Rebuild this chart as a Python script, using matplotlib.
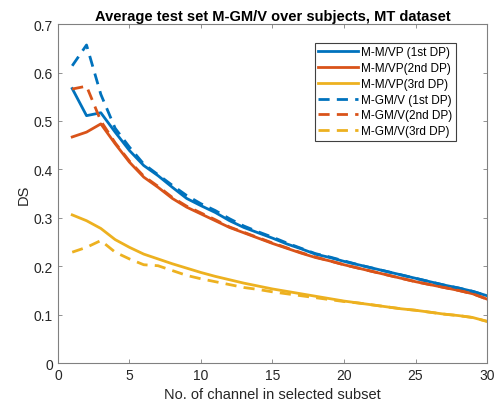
import matplotlib
matplotlib.use("Agg")
import matplotlib.pyplot as plt
import numpy as np

x = list(range(1, 31))

mmvp_1st = [0.567, 0.511, 0.517, 0.477, 0.439, 0.408, 0.387, 0.363, 0.340, 0.325,
            0.311, 0.294, 0.280, 0.269, 0.258, 0.246, 0.236, 0.225, 0.218, 0.210,
            0.203, 0.196, 0.189, 0.182, 0.175, 0.168, 0.161, 0.155, 0.148, 0.139]
mmvp_2nd = [0.467, 0.477, 0.494, 0.453, 0.415, 0.384, 0.363, 0.340, 0.322, 0.308,
            0.294, 0.280, 0.269, 0.258, 0.247, 0.237, 0.227, 0.218, 0.211, 0.203,
            0.196, 0.189, 0.182, 0.175, 0.168, 0.162, 0.156, 0.150, 0.143, 0.132]
mmvp_3rd = [0.306, 0.294, 0.278, 0.255, 0.239, 0.225, 0.215, 0.205, 0.196, 0.187,
            0.179, 0.172, 0.165, 0.159, 0.153, 0.148, 0.143, 0.138, 0.133, 0.128,
            0.124, 0.120, 0.116, 0.112, 0.109, 0.105, 0.101, 0.098, 0.094, 0.086]
mgmv_1st = [0.614, 0.657, 0.555, 0.485, 0.446, 0.411, 0.389, 0.367, 0.346, 0.329,
            0.315, 0.298, 0.283, 0.271, 0.260, 0.248, 0.237, 0.226, 0.219, 0.211,
            0.203, 0.196, 0.189, 0.182, 0.175, 0.168, 0.161, 0.155, 0.148, 0.139]
mgmv_2nd = [0.566, 0.572, 0.500, 0.455, 0.417, 0.386, 0.365, 0.342, 0.324, 0.310,
            0.296, 0.281, 0.270, 0.259, 0.248, 0.238, 0.228, 0.219, 0.211, 0.203,
            0.196, 0.189, 0.182, 0.175, 0.168, 0.162, 0.156, 0.150, 0.143, 0.132]
mgmv_3rd = [0.229, 0.239, 0.253, 0.229, 0.215, 0.203, 0.201, 0.191, 0.181, 0.174,
            0.168, 0.162, 0.156, 0.152, 0.147, 0.143, 0.139, 0.135, 0.131, 0.127,
            0.124, 0.120, 0.116, 0.112, 0.109, 0.105, 0.101, 0.098, 0.094, 0.086]

labels = ["M-M/VP (1st DP)", "M-M/VP(2nd DP)", "M-M/VP(3rd DP)",
          "M-GM/V (1st DP)", "M-GM/V(2nd DP)", "M-GM/V(3rd DP)"]
xticks = [0, 5, 10, 15, 20, 25, 30]
yticks = [0, 0.1, 0.2, 0.3, 0.4, 0.5, 0.6, 0.7]

c1, c2, c3 = "#0072BD", "#D95319", "#EDB120"

plt.rcParams['font.family'] = ['Liberation Sans', 'DejaVu Sans']
fig = plt.figure(figsize=(4.95, 4.06), dpi=100)
ax = fig.add_axes([0.117, 0.1034, 0.867, 0.8346])

lw = 2.0
series = [mmvp_1st, mmvp_2nd, mmvp_3rd, mgmv_1st, mgmv_2nd, mgmv_3rd]
cols = [c1, c2, c3, c1, c2, c3]
for i, (s, c, lab) in enumerate(zip(series, cols, labels)):
    if i < 3:
        ax.plot(x, s, color=c, lw=lw, label=lab)
    else:
        ax.plot(x, s, color=c, lw=lw, label=lab, dashes=(4.0, 2.6))

ax.set_xlim(0, 30)
ax.set_ylim(0, 0.7)
ax.set_xticks(xticks)
ax.set_xticklabels([str(t) for t in xticks])
ax.set_yticks(yticks)
ax.set_yticklabels(["0", "0.1", "0.2", "0.3", "0.4", "0.5", "0.6", "0.7"])
ax.tick_params(direction='in', top=True, right=True, length=3, width=0.6,
               colors='#808080', labelcolor='#262626', labelsize=10)
for sp in ax.spines.values():
    sp.set_color('#808080')
    sp.set_linewidth(0.8)

ax.set_xlabel("No. of channel in selected subset", fontsize=10.5, color='#262626', labelpad=4)
ax.set_ylabel("DS", fontsize=10.5, color='#262626', labelpad=2)
ax.set_title("Average test set M-GM/V over subjects, MT dataset", fontsize=10.5,
             fontweight='bold', color='black', pad=3)

leg = ax.legend(loc='upper right', bbox_to_anchor=(0.928, 0.945), fontsize=8.5,
                handlelength=3.4, handletextpad=0.25, labelspacing=0.32,
                borderpad=0.3, frameon=True, fancybox=False, framealpha=1,
                edgecolor='#404040', borderaxespad=0)
leg.get_frame().set_linewidth(0.8)

fig.savefig("out.png", dpi=100)
